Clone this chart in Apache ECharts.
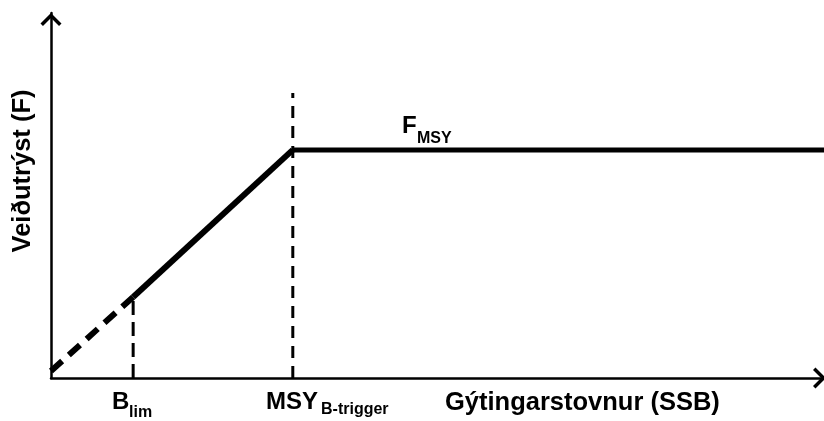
<!DOCTYPE html>
<html>
<head>
<meta charset="utf-8">
<script src="https://cdn.jsdelivr.net/npm/echarts@6/dist/echarts.min.js"></script>
<style>html,body{margin:0;padding:0;background:#fff;}#c{width:824px;height:421px;}</style>
</head>
<body>
<div id="c"></div>
<script>
// Data (SSB on x, F on y, arbitrary 0-100 units)
var dashedStartX = [0, 10.6];
var dashedStartY = [1.9, 22.2];
var rampX = [10.6, 31.2];
var rampY = [22.2, 62.5];
var flatX = [31.2, 100];
var flatY = [62.5, 62.5];
var blimX = 10.6, blimTop = 22.2;
var btrigX = 31.2, btrigTop = 78.1;
var labels = { blim: ['B', 'lim'], btrig: ['MSY', 'B-trigger'], fmsy: ['F', 'MSY'], xName: 'Gýtingarstovnur (SSB)', yName: 'Veiðutrýst (F)' };

function pairs(xs, ys) { return xs.map(function (x, i) { return [x, ys[i]]; }); }

var FONT = '"Liberation Sans", Arial, sans-serif';
var chevron = 'path://M0,11 L11,0 L22,11 L19.4,13.6 L11,5.2 L2.6,13.6 Z';
var chart = echarts.init(document.getElementById('c'), null, { renderer: 'canvas' });

function txt(t, x, y, size, extra) {
  var o = { type: 'text', x: x, y: y, silent: true,
    style: { text: t, fill: '#000', font: 'bold ' + size + 'px ' + FONT, align: 'left', verticalAlign: 'middle' } };
  if (extra) { for (var k in extra) o[k] = extra[k]; }
  return o;
}

var axisLine = { show: true, onZero: false, symbol: ['none', chevron], symbolSize: [22, 13], symbolOffset: [0, -6.5], lineStyle: { color: '#000', width: 2.5 } };

chart.setOption({
  animation: false,
  backgroundColor: '#fff',
  grid: { left: 51, right: -2, top: 13, bottom: 43, containLabel: false, outerBoundsMode: 'none' },
  xAxis: {
    type: 'value', min: 0, max: 100,
    axisLine: axisLine,
    axisTick: { show: false }, axisLabel: { show: false }, splitLine: { show: false }
  },
  yAxis: {
    type: 'value', min: 0, max: 100,
    axisLine: axisLine,
    axisTick: { show: false }, axisLabel: { show: false }, splitLine: { show: false }
  },
  series: [
    { type: 'line', data: pairs(dashedStartX, dashedStartY), symbol: 'none', clip: false,
      lineStyle: { color: '#000', width: 6, type: [15, 9], cap: 'butt' } },
    { type: 'line', data: pairs(rampX, rampY), symbol: 'none',
      lineStyle: { color: '#000', width: 6, cap: 'butt' } },
    { type: 'line', data: pairs(flatX, flatY), symbol: 'none',
      lineStyle: { color: '#000', width: 5, cap: 'butt' } },
    { type: 'line', data: [[blimX, 0], [blimX, blimTop]], symbol: 'none',
      lineStyle: { color: '#000', width: 3, type: [14, 7], cap: 'butt' } },
    { type: 'line', data: [[btrigX, 0], [btrigX, btrigTop]], symbol: 'none',
      lineStyle: { color: '#000', width: 3, type: [12, 8], cap: 'butt' } }
  ],
  graphic: [
    txt(labels.blim[0], 112, 402, 24),
    txt(labels.blim[1], 129, 413, 16),
    txt(labels.btrig[0], 266, 402, 24),
    txt(labels.btrig[1], 321, 410, 16),
    txt(labels.xName, 445, 403, 25.5),
    txt(labels.fmsy[0], 402, 126, 24),
    txt(labels.fmsy[1], 417, 139, 16),
    { type: 'text', x: 23, y: 171, rotation: Math.PI / 2, silent: true,
      style: { text: labels.yName, fill: '#000', font: 'bold 25.5px ' + FONT, align: 'center', verticalAlign: 'middle' } }
  ]
});
</script>
</body>
</html>
